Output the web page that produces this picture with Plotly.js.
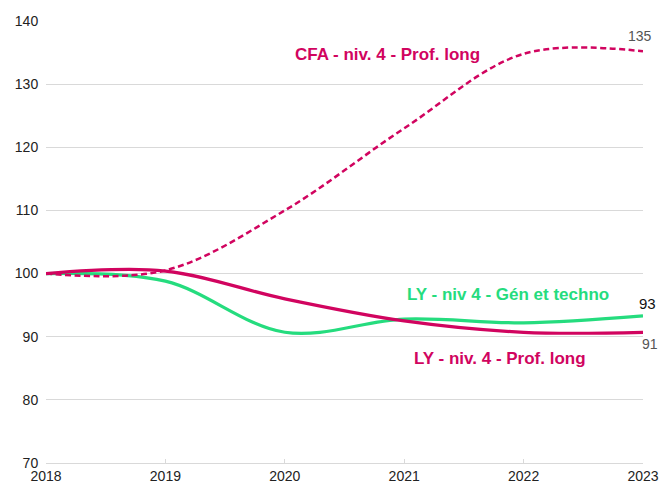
<!DOCTYPE html>
<html><head><meta charset="utf-8">
<script src="https://cdn.plot.ly/plotly-3.0.1.min.js"></script>
<style>html,body{margin:0;padding:0;background:#fff}#chart{width:662px;height:487px}</style>
</head><body><div id="chart"></div>
<script>
const years = [2018, 2019, 2020, 2021, 2022, 2023];
const cfaProfLong = [100, 100.5, 110, 123, 134.8, 135.2];
const lyGenTechno = [100, 98.8, 90.7, 92.8, 92.2, 93.3];
const lyProfLong = [100, 100.4, 96.0, 92.5, 90.7, 90.7];
const seriesNames = ["CFA - niv. 4 - Prof. long", "LY - niv 4 - Gén et techno", "LY - niv. 4 - Prof. long"];
const magenta = "#d1045f", green = "#25dc7e";

const traces = [
  {x: years, y: lyGenTechno, name: seriesNames[1], mode: "lines", line: {color: green, width: 3.2, shape: "spline", smoothing: 1}},
  {x: years, y: lyProfLong, name: seriesNames[2], mode: "lines", line: {color: magenta, width: 3.2, shape: "spline", smoothing: 1}},
  {x: years, y: cfaProfLong, name: seriesNames[0], mode: "lines", line: {color: magenta, width: 2.5, dash: "6px,3.5px", shape: "spline", smoothing: 1}}
];
const font = "Liberation Sans, Arial, sans-serif";
const layout = {
  width: 662, height: 487,
  margin: {l: 46, r: 19, t: 21, b: 24},
  showlegend: false,
  paper_bgcolor: "#fff", plot_bgcolor: "#fff",
  font: {family: font, size: 14, color: "#222"},
  xaxis: {range: [2018, 2023], tickvals: years, ticktext: years.map(String), showgrid: false, zeroline: false,
          showline: true, linecolor: "#d9d9d9", linewidth: 1, ticks: "inside", ticklen: 4, tickcolor: "#d9d9d9",
          tickfont: {size: 14, color: "#222"}, fixedrange: true},
  yaxis: {range: [70, 140], dtick: 10, showgrid: true, gridcolor: "#d9d9d9", zeroline: false, showline: false,
          ticks: "outside", ticklen: 4, tickcolor: "rgba(0,0,0,0)", tickfont: {size: 14, color: "#222"}, fixedrange: true},
  annotations: [
    {x: 2020.86, y: 134.7, text: "<b>" + seriesNames[0] + "</b>", showarrow: false, font: {size: 17, color: magenta}},
    {x: 2021.87, y: 96.7, text: "<b>" + seriesNames[1] + "</b>", showarrow: false, font: {size: 17, color: green}},
    {x: 2021.80, y: 86.5, text: "<b>" + seriesNames[2] + "</b>", showarrow: false, font: {size: 17, color: magenta}},
    {xref: "paper", x: 0.995, xanchor: "center", y: 137.6, text: String(Math.round(cfaProfLong[5])), showarrow: false, font: {size: 14, color: "#555"}},
    {xref: "paper", x: 1.008, xanchor: "center", y: 95.2, text: String(Math.round(lyGenTechno[5])), showarrow: false, font: {size: 15, color: "#111"}},
    {xref: "paper", x: 1.012, xanchor: "center", y: 88.9, text: String(Math.round(lyProfLong[5])), showarrow: false, font: {size: 14, color: "#555"}}
  ]
};
Plotly.newPlot("chart", traces, layout, {displayModeBar: false, staticPlot: true});
</script></body></html>
